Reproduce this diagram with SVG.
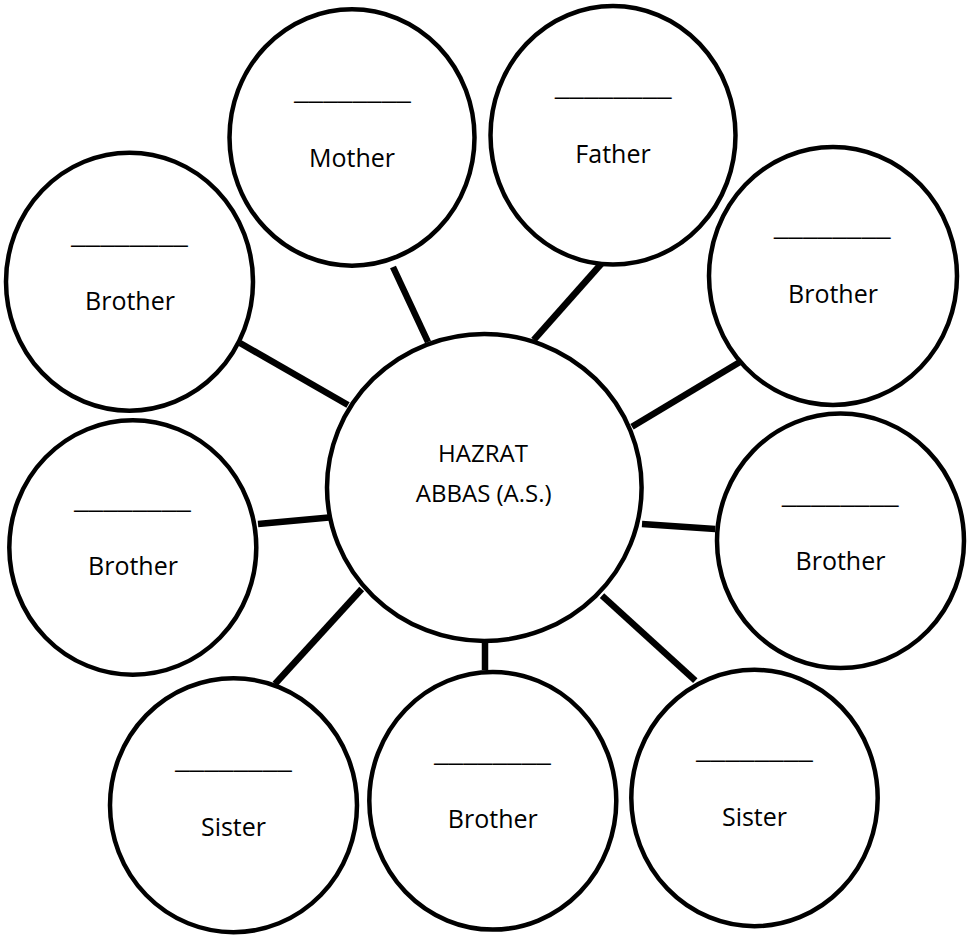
<svg xmlns="http://www.w3.org/2000/svg" width="974" height="938" viewBox="0 0 974 938">
<style>
.node ellipse{fill:#fff;stroke:#000;stroke-width:4.5}
.lbl{font-family:"Open Sans","Noto Sans",sans-serif;font-size:25px;fill:#000;text-anchor:middle}
.blank{font-family:"Open Sans","Noto Sans",sans-serif;font-size:25px;fill:#000}
.ctr{font-family:"Open Sans","Noto Sans",sans-serif;font-size:24px;fill:#000;text-anchor:middle}
#connectors line{stroke:#000;stroke-width:6.5}
</style>
<rect width="974" height="938" fill="#fff"/>
<g id="connectors">
<line x1="393" y1="267" x2="428" y2="342"/>
<line x1="602" y1="263" x2="533.7" y2="340"/>
<line x1="740.3" y1="361.7" x2="632" y2="426.7"/>
<line x1="240" y1="343" x2="348" y2="405"/>
<line x1="258" y1="524" x2="331.7" y2="517.3"/>
<line x1="642" y1="524" x2="715.3" y2="529"/>
<line x1="275" y1="684" x2="361.7" y2="589"/>
<line x1="485" y1="643" x2="485" y2="670"/>
<line x1="602" y1="595.7" x2="695.3" y2="680.7"/>
</g>
<g id="center" class="node">
<ellipse cx="484.3" cy="487.5" rx="157.3" ry="153.5"/>
<text class="ctr" x="483" y="461.7">HAZRAT</text>
<text class="ctr" x="483.7" y="501.7">ABBAS (A.S.)</text>
</g>
<g id="mother" class="node">
<ellipse cx="352" cy="137.5" rx="122.5" ry="128.2"/>
<text class="blank" x="294" y="99" textLength="117" lengthAdjust="spacingAndGlyphs">________</text>
<text class="lbl" x="352" y="167">Mother</text>
</g>
<g id="father" class="node">
<ellipse cx="613" cy="135.3" rx="122.5" ry="129.3"/>
<text class="blank" x="554.7" y="95.3" textLength="117" lengthAdjust="spacingAndGlyphs">________</text>
<text class="lbl" x="613" y="163">Father</text>
</g>
<g id="brother-tr" class="node">
<ellipse cx="833" cy="276" rx="124" ry="129"/>
<text class="blank" x="773.7" y="235.3" textLength="117" lengthAdjust="spacingAndGlyphs">________</text>
<text class="lbl" x="833" y="303">Brother</text>
</g>
<g id="brother-tl" class="node">
<ellipse cx="129.5" cy="281.7" rx="123.5" ry="129"/>
<text class="blank" x="71" y="242.7" textLength="117" lengthAdjust="spacingAndGlyphs">________</text>
<text class="lbl" x="130" y="310">Brother</text>
</g>
<g id="brother-ml" class="node">
<ellipse cx="132.8" cy="547.5" rx="123.5" ry="127.2"/>
<text class="blank" x="74" y="507.7" textLength="117" lengthAdjust="spacingAndGlyphs">________</text>
<text class="lbl" x="133" y="575">Brother</text>
</g>
<g id="brother-mr" class="node">
<ellipse cx="840.5" cy="540.8" rx="123.5" ry="127.2"/>
<text class="blank" x="781.7" y="503.3" textLength="117" lengthAdjust="spacingAndGlyphs">________</text>
<text class="lbl" x="840.5" y="570">Brother</text>
</g>
<g id="sister-bl" class="node">
<ellipse cx="233.5" cy="805.2" rx="123.5" ry="127"/>
<text class="blank" x="175" y="767.7" textLength="117" lengthAdjust="spacingAndGlyphs">________</text>
<text class="lbl" x="233.5" y="835.7">Sister</text>
</g>
<g id="brother-bm" class="node">
<ellipse cx="492.8" cy="800.8" rx="123.5" ry="128.8"/>
<text class="blank" x="434" y="761" textLength="117" lengthAdjust="spacingAndGlyphs">________</text>
<text class="lbl" x="492.8" y="828.3">Brother</text>
</g>
<g id="sister-br" class="node">
<ellipse cx="754.5" cy="798" rx="123.2" ry="128.2"/>
<text class="blank" x="696" y="758.3" textLength="117" lengthAdjust="spacingAndGlyphs">________</text>
<text class="lbl" x="754.5" y="825.7">Sister</text>
</g>
</svg>
